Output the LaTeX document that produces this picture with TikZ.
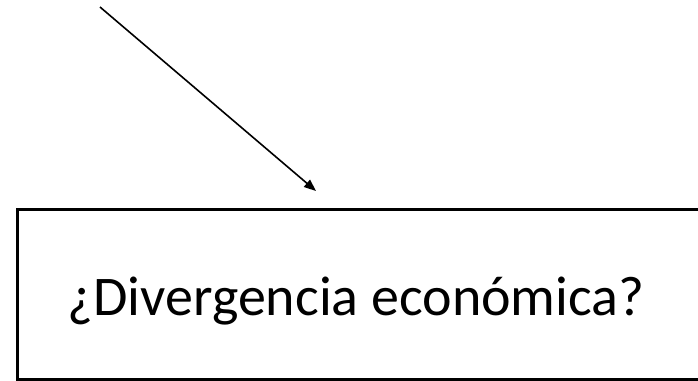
\documentclass[tikz,border=0pt]{standalone}
\usepackage{fontspec}
\setmainfont{Carlito}
\usetikzlibrary{arrows.meta}
\tikzset{
  conn/.style={line width=1.2pt, -{Triangle[length=9pt,width=7pt]}},
  framebox/.style={draw, line width=2.9pt, fill=none},
  label/.style={font=\fontsize{42pt}{50pt}\selectfont, inner sep=0pt, anchor=base}
}
\begin{document}
\begin{tikzpicture}[x=0.75pt, y=-0.75pt]
\useasboundingbox (0,0) rectangle (698,380);
\clip (0,0) rectangle (698,380);
\draw[framebox] (17.5,209.5) rectangle (720,380);
\node[label] (q) at (356,315) {¿Divergencia económica?};
\coordinate (s) at (100,7);
\coordinate (e) at (316,191);
\draw[conn] (s) -- (e);
\end{tikzpicture}
\end{document}
